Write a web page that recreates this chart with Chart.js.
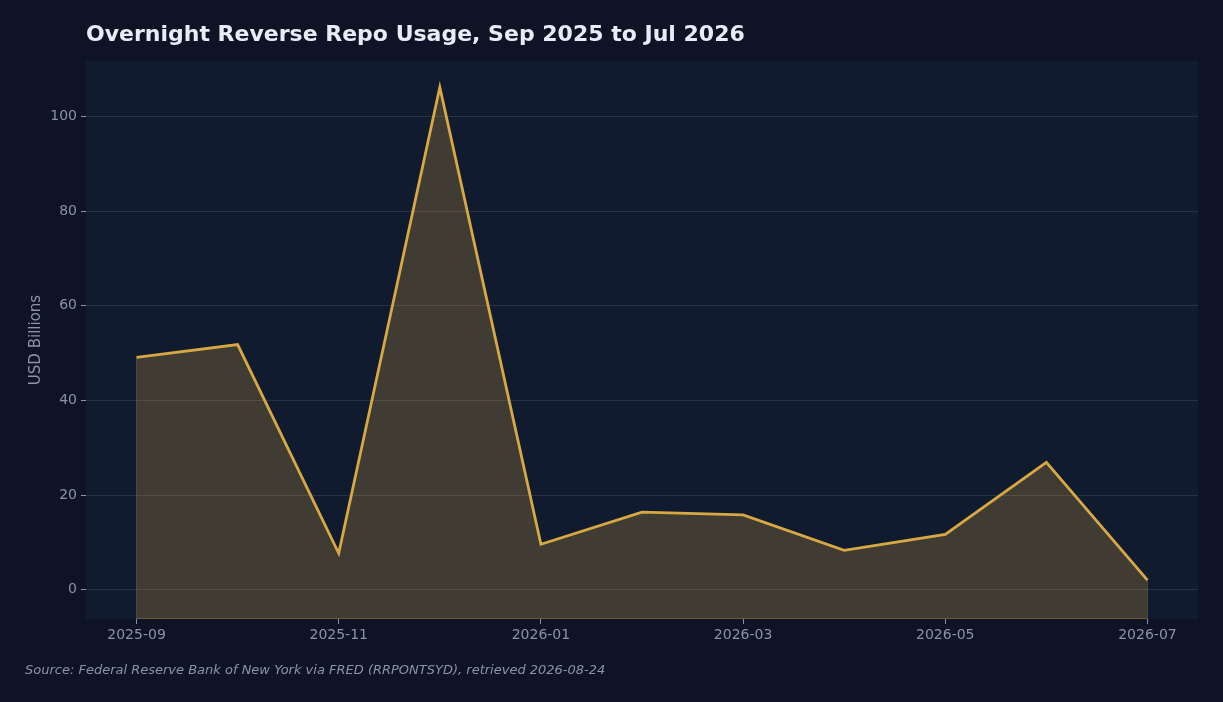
<!DOCTYPE html>
<html>
<head>
<meta charset="utf-8">
<title>Overnight Reverse Repo Usage</title>
<script src="https://cdn.jsdelivr.net/npm/chart.js@4.4.1/dist/chart.umd.min.js"></script>
<style>
  html, body { margin: 0; padding: 0; background: #0e1426; }
  #wrap { width: 1223px; height: 702px; }
</style>
</head>
<body>
<div id="wrap"><canvas id="c" width="1223" height="702"></canvas></div>
<script>
// monthly observations, Sep 2025 .. Jul 2026 (USD billions)
const months = ['2025-09','2025-10','2025-11','2025-12','2026-01','2026-02',
                '2026-03','2026-04','2026-05','2026-06','2026-07']
const rrpValues = [49.1, 51.8, 7.7, 106.2, 9.6, 16.4, 15.8, 8.3, 11.7, 26.9, 2.0]
const xTickLabels = ['2025-09','2025-11','2026-01','2026-03','2026-05','2026-07']
const yTickValues = [0, 20, 40, 60, 80, 100]

const GOLD = '#d8a843'
const TEXT_DIM = '#8b93a6'

function hexToRgba(hex, alpha) {
  const r = parseInt(hex.slice(1,3),16)
  const g = parseInt(hex.slice(3,5),16)
  const b = parseInt(hex.slice(5,7),16)
  return `rgba(${r},${g},${b},${alpha})`
}

// plot background, fill outline, title and source note
const decor = {
  id: 'decor',
  beforeDraw(chart) {
    const { ctx, chartArea: a } = chart
    ctx.save()
    ctx.fillStyle = '#111b2f'
    ctx.fillRect(a.left, a.top, a.right - a.left, a.bottom - a.top)
    ctx.restore()
  },
  afterDatasetsDraw(chart) {
    const { ctx, chartArea: a, scales } = chart
    const x0 = scales.x.getPixelForValue(0)
    const x1 = scales.x.getPixelForValue(months.length - 1)
    const yFirst = scales.y.getPixelForValue(rrpValues[0])
    const yLast = scales.y.getPixelForValue(rrpValues[rrpValues.length - 1])
    ctx.save()
    ctx.strokeStyle = hexToRgba(GOLD, 0.3)
    ctx.lineWidth = 1
    ctx.beginPath()
    ctx.moveTo(x0, yFirst); ctx.lineTo(x0, a.bottom - 0.5)
    ctx.lineTo(x1, a.bottom - 0.5); ctx.lineTo(x1, yLast)
    ctx.stroke()
    ctx.restore()
  },
  afterDraw(chart) {
    const { ctx, chartArea: a } = chart
    ctx.save()
    ctx.fillStyle = '#e8ecf6'
    ctx.font = 'bold 22px "DejaVu Sans"'
    ctx.textBaseline = 'alphabetic'
    ctx.fillText('Overnight Reverse Repo Usage, Sep 2025 to Jul 2026', a.left, 41)
    ctx.fillStyle = TEXT_DIM
    ctx.font = 'italic 13px "DejaVu Sans"'
    ctx.fillText('Source: Federal Reserve Bank of New York via FRED (RRPONTSYD), retrieved 2026-08-24', 25, 674)
    ctx.restore()
  },
}

new Chart(document.getElementById('c'), {
  type: 'line',
  data: {
    datasets: [{
      label: 'RRP',
      data: rrpValues.map((v, i) => ({ x: i, y: v })),
      borderColor: GOLD,
      backgroundColor: hexToRgba(GOLD, 0.235),
      borderWidth: 2.8,
      fill: 'start',
      tension: 0,
      pointRadius: 0,
    }],
  },
  options: {
    responsive: false,
    animation: false,
    layout: { padding: { top: 61, right: 25, left: 0, bottom: 0 } },
    plugins: { legend: { display: false }, tooltip: { enabled: false } },
    scales: {
      x: {
        type: 'linear',
        min: -0.5,
        max: months.length - 0.5,
        afterBuildTicks: s => { s.ticks = xTickLabels.map(l => ({ value: months.indexOf(l) })) },
        afterFit: s => { s.height = 83 },
        border: { display: false },
        grid: { drawOnChartArea: false, tickLength: 5, tickColor: TEXT_DIM, tickWidth: 1 },
        ticks: {
          color: TEXT_DIM,
          font: { family: 'DejaVu Sans', size: 14 },
          padding: 3,
          maxRotation: 0,
          callback: v => months[v],
        },
      },
      y: {
        min: -6.2,
        max: 111.75,
        afterBuildTicks: s => { s.ticks = yTickValues.map(v => ({ value: v })) },
        afterFit: s => { s.width = 86 },
        border: { display: false },
        grid: { color: 'rgba(255,255,255,0.1)', tickLength: 5, tickColor: TEXT_DIM, tickWidth: 1 },
        ticks: {
          color: TEXT_DIM,
          font: { family: 'DejaVu Sans', size: 14 },
          padding: 4,
        },
        title: {
          display: true,
          text: 'USD Billions',
          color: TEXT_DIM,
          font: { family: 'DejaVu Sans', size: 15 },
          padding: { top: 27, bottom: 0 },
        },
      },
    },
  },
  plugins: [decor],
})
</script>
</body>
</html>
